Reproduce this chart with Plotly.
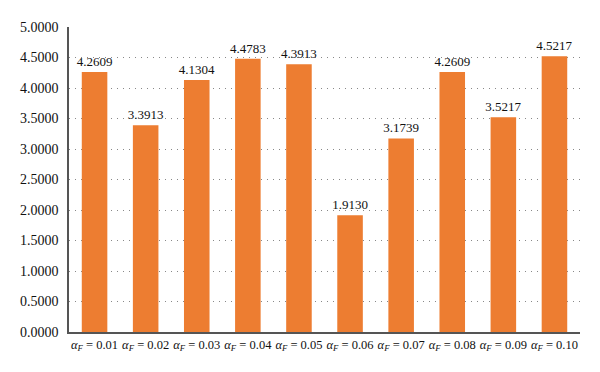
import plotly.graph_objects as go

categories = ["0.01", "0.02", "0.03", "0.04", "0.05", "0.06", "0.07", "0.08", "0.09", "0.10"]
values = [4.2609, 3.3913, 4.1304, 4.4783, 4.3913, 1.9130, 3.1739, 4.2609, 3.5217, 4.5217]
y_ticks = [0, 0.5, 1.0, 1.5, 2.0, 2.5, 3.0, 3.5, 4.0, 4.5, 5.0]

labels = [f"<i>α</i><sub><i>F</i></sub> = {c}" for c in categories]

fig = go.Figure(go.Bar(
    x=labels, y=values,
    marker=dict(color="#ED7D31", line=dict(width=0)),
    text=[f"{v:.4f}" for v in values],
    textposition="outside",
    constraintext="none",
    textfont=dict(family="Liberation Serif", size=13, color="#111"),
    cliponaxis=False,
))

fig.update_layout(
    width=592, height=364,
    margin=dict(l=52, r=20, t=17, b=40),
    paper_bgcolor="white", plot_bgcolor="white",
    bargap=0.5,
    showlegend=False,
    font=dict(family="Liberation Serif", size=13, color="#111"),
)
fig.update_yaxes(
    range=[0, 5], tickvals=y_ticks, ticktext=[f"{t:.4f}" for t in y_ticks],
    showgrid=True, gridcolor="#888", griddash="1px,5px", gridwidth=1,
    showline=True, linecolor="#555", linewidth=1.5,
    ticks="", zeroline=False, ticklabelstandoff=6,
    tickfont=dict(size=14),
)
fig.update_xaxes(
    showline=True, linecolor="#555", linewidth=1.5, ticks="",
    tickfont=dict(size=12.5), ticklabelstandoff=0,
)

fig.write_html("out.html")
